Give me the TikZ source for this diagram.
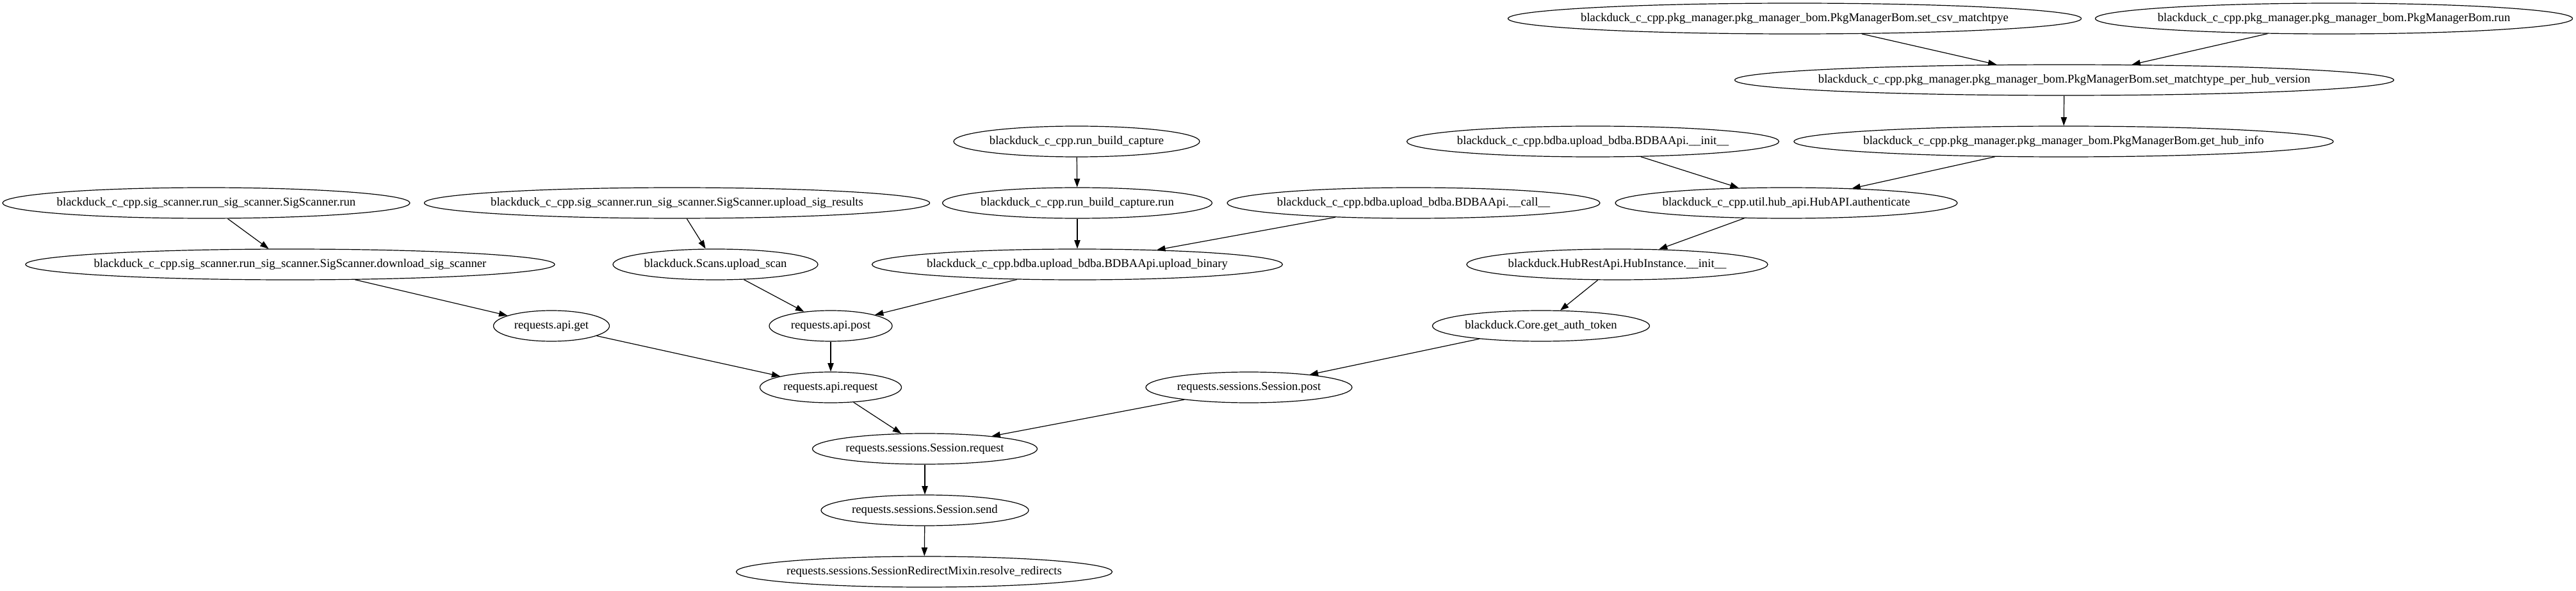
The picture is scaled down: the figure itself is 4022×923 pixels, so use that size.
\documentclass[tikz,border=0pt]{standalone}
\usepackage{fontspec}
\setmainfont{Liberation Serif}
\usepackage{tikz}
\usetikzlibrary{shapes.geometric, arrows.meta, positioning, calc}

\tikzset{
  fn/.style={draw=black, ellipse, line width=0.9pt, inner xsep=-40pt, inner ysep=0pt,
             minimum height=36pt, font=\fontsize{14}{16}\selectfont},
  call/.style={draw=black, line width=0.9pt, -{Triangle[length=10pt, width=7pt]}}
}

\begin{document}
\begin{tikzpicture}[x=0.75pt, y=-0.75pt]
\useasboundingbox (0,0) rectangle (4022,923);

% pkg manager chain
\node[fn, minimum width=671.25pt] (csv) at (2802,29) {blackduck\_c\_cpp.pkg\_manager.pkg\_manager\_bom.PkgManagerBom.set\_csv\_matchtpye};
\node[fn, minimum width=558.75pt] (pkgrun) at (3644,29) {blackduck\_c\_cpp.pkg\_manager.pkg\_manager\_bom.PkgManagerBom.run};
\node[fn, minimum width=771.75pt] (perhub) at (3223,125) {blackduck\_c\_cpp.pkg\_manager.pkg\_manager\_bom.PkgManagerBom.set\_matchtype\_per\_hub\_version};
\node[fn, minimum width=631.5pt] (hubinfo) at (3222,221) {blackduck\_c\_cpp.pkg\_manager.pkg\_manager\_bom.PkgManagerBom.get\_hub\_info};

% build capture and bdba
\node[fn, minimum width=288pt] (rbc) at (1681,221) {blackduck\_c\_cpp.run\_build\_capture};
\node[fn, minimum width=435.75pt] (bdbainit) at (2487,221) {blackduck\_c\_cpp.bdba.upload\_bdba.BDBAApi.\_\_init\_\_};
\node[fn, minimum width=315.75pt] (rbcrun) at (1682,317) {blackduck\_c\_cpp.run\_build\_capture.run};
\node[fn, minimum width=436.5pt] (bdbacall) at (2207,317) {blackduck\_c\_cpp.bdba.upload\_bdba.BDBAApi.\_\_call\_\_};
\node[fn, minimum width=400.5pt] (auth) at (2789,317) {blackduck\_c\_cpp.util.hub\_api.HubAPI.authenticate};
\node[fn, minimum width=480.75pt] (binary) at (1682,413) {blackduck\_c\_cpp.bdba.upload\_bdba.BDBAApi.upload\_binary};
\node[fn, minimum width=352.5pt] (hubinst) at (2525,413) {blackduck.HubRestApi.HubInstance.\_\_init\_\_};
\node[fn, minimum width=254.25pt] (token) at (2406,509) {blackduck.Core.get\_auth\_token};

% sig scanner
\node[fn, minimum width=477pt] (sigrun) at (322,317) {blackduck\_c\_cpp.sig\_scanner.run\_sig\_scanner.SigScanner.run};
\node[fn, minimum width=591.75pt] (sigupload) at (1057,317) {blackduck\_c\_cpp.sig\_scanner.run\_sig\_scanner.SigScanner.upload\_sig\_results};
\node[fn, minimum width=619.5pt] (sigdl) at (453,413) {blackduck\_c\_cpp.sig\_scanner.run\_sig\_scanner.SigScanner.download\_sig\_scanner};
\node[fn, minimum width=240pt] (scans) at (1117,413) {blackduck.Scans.upload\_scan};

% requests
\node[fn, minimum width=135.75pt] (apiget) at (861,509) {requests.api.get};
\node[fn, minimum width=144pt] (apipost) at (1297,509) {requests.api.post};
\node[fn, minimum width=165.75pt] (apireq) at (1297,605) {requests.api.request};
\node[fn, minimum width=241.5pt] (sesspost) at (1950,605) {requests.sessions.Session.post};
\node[fn, minimum width=263.25pt] (sessreq) at (1444,701) {requests.sessions.Session.request};
\node[fn, minimum width=243pt] (sesssend) at (1444,797) {requests.sessions.Session.send};
\node[fn, minimum width=440.25pt] (resolve) at (1443,893) {requests.sessions.SessionRedirectMixin.resolve\_redirects};

% calls
\draw[call] (csv) -- (perhub);
\draw[call] (pkgrun) -- (perhub);
\draw[call] (perhub) -- (hubinfo);
\draw[call] (hubinfo) -- (auth);
\draw[call] (bdbainit) -- (auth);
\draw[call] (auth) -- (hubinst);
\draw[call] (hubinst) -- (token);
\draw[call] (token) -- (sesspost);
\draw[call] (sesspost) -- (sessreq);
\draw[call] (rbc) -- (rbcrun);
\draw[call] (rbcrun) -- (binary);
\draw[call] (bdbacall) -- (binary);
\draw[call] (binary) -- (apipost);
\draw[call] (sigrun) -- (sigdl);
\draw[call] (sigupload) -- (scans);
\draw[call] (scans) -- (apipost);
\draw[call] (sigdl) -- (apiget);
\draw[call] (apiget) -- (apireq);
\draw[call] (apipost) -- (apireq);
\draw[call] (apireq) -- (sessreq);
\draw[call] (sessreq) -- (sesssend);
\draw[call] (sesssend) -- (resolve);
\end{tikzpicture}
\end{document}
